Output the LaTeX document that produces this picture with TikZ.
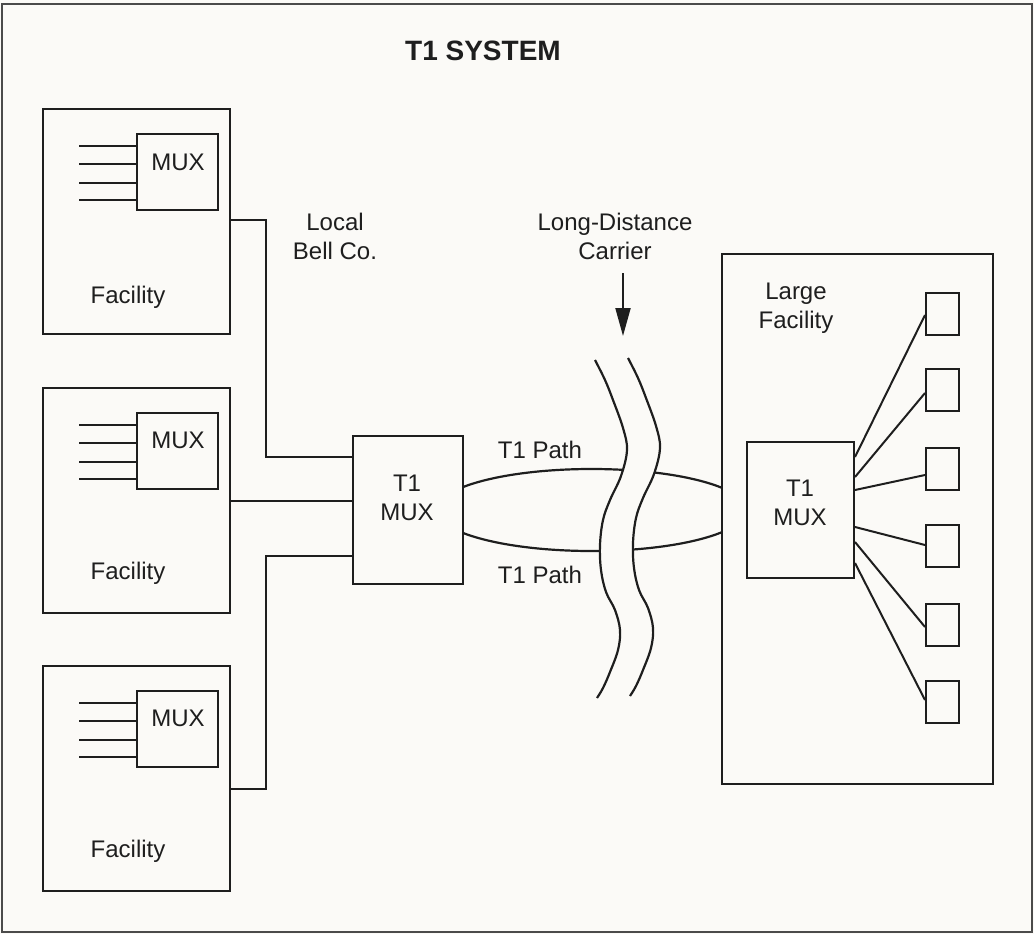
\documentclass[tikz,border=0pt]{standalone}
\usepackage{fontspec}
\setmainfont{Liberation Sans}
\usetikzlibrary{arrows.meta}
\definecolor{ink}{HTML}{1E1E1E}
\definecolor{paper}{HTML}{FBFAF7}
\begin{document}
\begin{tikzpicture}[x=1pt,y=-1pt,
  box/.style={draw=ink,line width=2pt,inner sep=0pt,anchor=north west},
  wire/.style={draw=ink,line width=2pt},
  lbl/.style={font=\fontsize{24}{29}\selectfont,text=ink,align=center,inner sep=0pt}]
\fill[paper] (0,0) rectangle (1034,934);
\useasboundingbox (0,0) rectangle (1034,934);
\draw[ink!80,line width=1.3pt] (2,4) rectangle (1032,932);

% title
\node[font=\fontsize{28}{32}\selectfont\bfseries,text=ink,inner sep=0pt] (title) at (483,51) {T1 SYSTEM};

% facility boxes
\node[box,minimum width=187pt,minimum height=225pt] (fac1) at (42,108) {};
\node[box,minimum width=187pt,minimum height=225pt] (fac2) at (42,387) {};
\node[box,minimum width=187pt,minimum height=225pt] (fac3) at (42,665) {};
\node[box,minimum width=81pt,minimum height=76pt] (mux1) at (136,133) {};
\node[box,minimum width=81pt,minimum height=76pt] (mux2) at (136,412) {};
\node[box,minimum width=81pt,minimum height=76pt] (mux3) at (136,690) {};
\node[lbl] (muxt1) at (178,162) {MUX};
\node[lbl] (muxt2) at (178,440) {MUX};
\node[lbl] (muxt3) at (178,718) {MUX};
\node[lbl] (ft1) at (128,297) {Facility};
\node[lbl] (ft2) at (128,573) {Facility};
\node[lbl] (ft3) at (128,851) {Facility};
\foreach \m in {mux1,mux2,mux3}{
  \foreach \d in {13,31,50,67}{
    \draw[wire] ([yshift=-\d pt]\m.north west) -- +(-57pt,0);
  }
}

% central T1 MUX
\node[box,minimum width=110pt,minimum height=148pt] (t1a) at (352,435) {};
\node[lbl] (t1at) at (407,498) {T1\\MUX};

% connectors facility -> T1 MUX
\draw[wire] (fac1.east |- 0,220) -- (266,220) |- (t1a.west |- 0,457);
\draw[wire] (fac2.east |- 0,501) -- (t1a.west |- 0,501);
\draw[wire] (fac3.east |- 0,789) -- (266,789) |- (t1a.west |- 0,556);

\node[lbl] (bell) at (335,236) {Local\\Bell Co.};
\node[lbl] (ldc) at (615,236) {Long-Distance\\Carrier};
\coordinate (arrtop) at (623,273);
\coordinate (arrtip) at (623,336);
\draw[ink,line width=2pt,-{Triangle[length=28pt,width=15pt]}] (arrtop) -- (arrtip);

% large facility
\node[box,minimum width=271pt,minimum height=530pt] (large) at (721,253) {};
\node[lbl] (lft) at (796,308) {Large\\Facility};
\node[box,minimum width=107pt,minimum height=136pt] (t1b) at (746,441) {};
\node[lbl] (t1bt) at (800,503) {T1\\MUX};

% small boxes
\foreach \i/\y in {1/292,2/368,3/447,4/524,5/603,6/680}{
  \node[box,minimum width=33pt,minimum height=42pt] (s\i) at (925,\y) {};
}
\draw[wire] ([yshift=-16pt]t1b.north east) -- ([yshift=-23pt]s1.north west);
\draw[wire] ([yshift=-36pt]t1b.north east) -- ([yshift=-25pt]s2.north west);
\draw[wire] ([yshift=-49pt]t1b.north east) -- ([yshift=-28pt]s3.north west);
\draw[wire] ([yshift=-86pt]t1b.north east) -- ([yshift=-21pt]s4.north west);
\draw[wire] ([yshift=-101pt]t1b.north east) -- ([yshift=-24pt]s5.north west);
\draw[wire] ([yshift=-122pt]t1b.north east) -- ([yshift=-20pt]s6.north west);

% T1 path ellipse, broken between the wavy lines
\begin{scope}
  \clip (t1a.east |- 0,400) -- (613,400) -- (623,428) -- (627,450) -- (621,476) -- (610,500) -- (603,520) -- (600,545) -- (601,570) -- (606,592) -- (t1a.east |- 0,592) -- cycle;
  \draw[wire,line width=2.2pt] (591.5,510) ellipse [x radius=155pt, y radius=41pt];
\end{scope}
\begin{scope}
  \clip (large.west |- 0,398) -- (646,398) -- (656,426) -- (660,448) -- (654,474) -- (643,498) -- (636,518) -- (633,543) -- (634,568) -- (639,590) -- (large.west |- 0,590) -- cycle;
  \draw[wire,line width=2.2pt] (591.5,510) ellipse [x radius=155pt, y radius=41pt];
\end{scope}
\node[lbl] (p1) at (540,450) {T1 Path};
\node[lbl] (p2) at (540,575) {T1 Path};

% wavy lines
\draw[wire,line width=2.2pt] plot[smooth,tension=0.6] coordinates {(595,360) (605,380) (613,400) (623,428) (627,450) (621,476) (610,500) (603,520) (600,545) (601,570) (606,592) (615,610) (620,630) (618,650) (610,672) (603,688) (597,698)};
\draw[wire,line width=2.2pt] plot[smooth,tension=0.6] coordinates {(628,358) (638,378) (646,398) (656,426) (660,448) (654,474) (643,498) (636,518) (633,543) (634,568) (639,590) (648,608) (653,628) (651,648) (643,670) (636,686) (630,696)};
\end{tikzpicture}
\end{document}
